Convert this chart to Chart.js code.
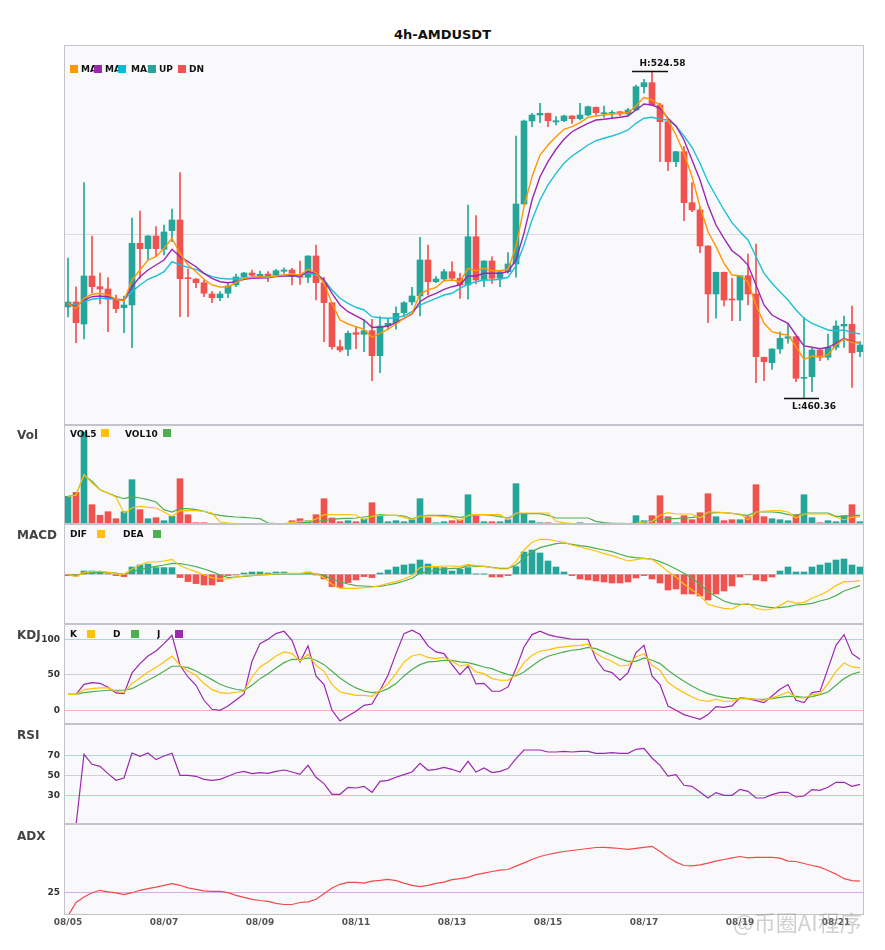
<!DOCTYPE html>
<html><head><meta charset="utf-8">
<script src="https://cdn.jsdelivr.net/npm/chart.js@4.4.0/dist/chart.umd.min.js"></script>
<style>
body{margin:0;background:#fff;}
#wrap{position:relative;width:885px;height:950px;overflow:hidden;font-family:"DejaVu Sans",sans-serif;background:#fff;}
.pane{position:absolute;left:0;width:885px;}
.title{position:absolute;left:0;top:27px;width:885px;text-align:center;font-weight:bold;font-size:13px;line-height:15px;color:#111;}
.lbl{position:absolute;left:17px;font-weight:bold;font-size:12px;line-height:12px;color:#444;}
.leg{position:absolute;font-weight:bold;font-size:9px;line-height:9px;color:#111;white-space:nowrap;overflow:hidden;}
.box{position:absolute;width:8px;height:8px;}
.wm{position:absolute;left:733px;top:908px;font-family:"Noto Sans CJK SC",sans-serif;font-size:22px;line-height:26px;color:rgba(150,150,150,0.45);white-space:nowrap;}
</style></head><body>
<div id="wrap">
  <div class="pane" style="top:43px;height:384px"><canvas id="cMain"></canvas></div>
  <div class="pane" style="top:423px;height:103px"><canvas id="cVol"></canvas></div>
  <div class="pane" style="top:522px;height:104px"><canvas id="cMacd"></canvas></div>
  <div class="pane" style="top:622px;height:104px"><canvas id="cKdj"></canvas></div>
  <div class="pane" style="top:722px;height:104px"><canvas id="cRsi"></canvas></div>
  <div class="pane" style="top:822px;height:123px"><canvas id="cAdx"></canvas></div>

  <div class="title">4h-AMDUSDT</div>

  <div class="box" style="left:70px;top:65px;background:#FF9800"></div>
  <div class="leg" style="left:81px;top:65px;width:13px">MA5</div>
  <div class="box" style="left:94px;top:65px;background:#9C27B0"></div>
  <div class="leg" style="left:105px;top:65px;width:13px">MA10</div>
  <div class="box" style="left:118px;top:65px;background:#00BCD4"></div>
  <div class="leg" style="left:131px;top:65px;width:17px">MA20</div>
  <div class="box" style="left:148px;top:65px;background:#26A69A"></div>
  <div class="leg" style="left:159px;top:65px">UP</div>
  <div class="box" style="left:178px;top:65px;background:#EF5350"></div>
  <div class="leg" style="left:189px;top:65px">DN</div>

  <div class="lbl" style="top:429px">Vol</div>
  <div class="leg" style="left:70px;top:430px">VOL5</div>
  <div class="box" style="left:101px;top:429px;background:#FFC107"></div>
  <div class="leg" style="left:125px;top:430px">VOL10</div>
  <div class="box" style="left:163px;top:429px;background:#4CAF50"></div>

  <div class="lbl" style="top:529px">MACD</div>
  <div class="leg" style="left:70px;top:530px">DIF</div>
  <div class="box" style="left:97px;top:530px;background:#FFC107"></div>
  <div class="leg" style="left:123px;top:530px">DEA</div>
  <div class="box" style="left:153px;top:530px;background:#4CAF50"></div>

  <div class="lbl" style="top:629px">KDJ</div>
  <div class="leg" style="left:70px;top:630px">K</div>
  <div class="box" style="left:87px;top:630px;background:#FFC107"></div>
  <div class="leg" style="left:113px;top:630px">D</div>
  <div class="box" style="left:131px;top:630px;background:#4CAF50"></div>
  <div class="leg" style="left:157px;top:630px">J</div>
  <div class="box" style="left:175px;top:630px;background:#9C27B0"></div>

  <div class="lbl" style="top:729px">RSI</div>
  <div class="lbl" style="top:830px">ADX</div>

  <div class="wm">@币圈AI程序</div>
</div>
<script>
// ---------- categories ----------
const days = ['08/05','08/06','08/07','08/08','08/09','08/10','08/11','08/12','08/13','08/14','08/15','08/16','08/17','08/18','08/19','08/20','08/21'];
const hours = ['00:00','04:00','08:00','12:00','16:00','20:00'];
const categories = [];
days.forEach(d => hours.forEach(h => categories.push(d + ' ' + h)));
categories.length = 100;

// ---------- candles ----------
const open = [478.23,479.21,474.89,484.31,482.21,481.76,479.74,478.09,478.62,490.74,
489.68,492.17,489.56,493.21,495.31,483.98,483.72,483.00,480.78,480.05,
480.92,482.55,484.18,484.90,484.37,484.71,484.51,485.24,485.49,484.31,
484.06,488.24,483.00,479.07,470.43,469.92,473.18,472.86,473.57,468.66,
474.49,475.14,477.11,479.21,480.39,487.46,483.19,483.72,485.16,483.86,
482.55,492.03,483.53,487.26,483.86,485.16,486.67,498.45,514.76,515.93,
516.27,514.56,514.81,515.74,515.21,515.93,517.45,516.19,516.27,516.58,
516.13,516.92,521.49,522.28,517.90,514.62,506.76,508.73,498.71,497.28,
490.21,480.78,485.04,479.80,479.60,484.37,480.78,468.35,467.29,469.98,
472.08,472.39,464.22,464.54,469.78,468.35,470.31,474.49,474.83,469.45];
const high = [487.85,482.21,502.64,492.17,484.90,483.98,480.58,480.39,495.70,497.08,
492.30,494.00,494.33,497.47,504.60,485.69,483.80,483.53,481.23,481.23,
482.88,484.71,485.04,485.49,485.30,485.16,485.63,485.94,485.83,487.26,
488.30,490.40,484.06,479.10,471.74,473.51,474.24,475.67,475.81,476.32,
475.81,478.28,479.27,482.09,491.91,490.40,484.18,485.63,487.12,484.84,
498.26,496.16,487.30,488.10,485.20,488.89,511.81,514.95,516.27,518.23,
516.30,515.60,515.93,515.80,518.23,517.70,517.50,517.70,516.78,516.60,
517.25,521.83,522.95,524.58,518.20,515.00,508.80,509.71,502.64,497.92,
490.25,485.10,485.10,483.86,484.40,488.63,490.60,468.40,470.00,473.37,
475.02,472.40,476.20,470.11,469.80,472.92,475.53,476.46,478.42,471.41];
const low = [476.26,471.21,471.94,480.97,478.81,473.37,477.11,473.18,470.23,483.86,
487.46,488.24,488.44,491.05,476.32,476.32,482.02,480.25,479.07,479.46,
480.05,482.21,483.98,484.06,484.06,483.19,484.31,484.84,482.55,482.68,
483.00,479.60,471.41,469.92,469.39,468.66,470.04,469.45,463.75,465.32,
473.85,473.85,476.46,478.62,476.46,480.58,483.00,483.39,483.39,479.93,
479.74,482.74,482.21,482.88,482.21,484.84,484.06,498.40,513.64,514.42,
513.64,513.97,514.62,514.30,514.95,515.74,515.93,515.48,515.29,515.74,
515.93,516.78,520.20,517.90,506.76,504.99,505.78,495.17,496.94,488.89,
475.14,476.01,478.42,475.53,475.53,478.62,463.36,463.75,465.99,469.13,
471.10,463.55,460.36,461.59,467.68,467.82,469.78,470.31,462.45,468.46];
const close = [479.21,475.14,484.31,482.21,481.76,479.74,477.89,478.62,490.74,489.68,
492.17,489.68,492.96,495.31,483.78,483.78,483.00,480.92,480.05,480.78,
482.35,484.12,484.90,484.45,484.65,484.31,485.35,485.49,484.84,484.06,
488.24,483.00,479.07,470.43,469.78,473.06,472.86,473.57,468.66,474.49,
475.02,476.99,479.07,480.39,487.46,483.19,483.72,485.16,483.86,482.55,
492.03,483.53,487.26,483.86,485.16,486.67,498.45,514.76,515.93,516.27,
514.81,514.81,515.74,515.21,515.93,517.56,516.39,516.39,516.46,516.13,
516.92,521.49,522.28,517.90,514.62,506.76,508.73,498.71,497.28,490.21,
480.78,485.04,479.60,479.60,484.37,480.78,468.46,467.48,469.98,472.08,
472.39,464.22,464.34,469.78,468.35,470.31,474.49,474.83,469.25,470.76];

// ---------- moving averages ----------
const ma5 = [478.95,477.97,479.93,480.72,480.92,480.58,479.74,479.46,483.53,485.49,
487.46,488.10,489.75,491.72,488.77,486.47,485.16,483.67,482.55,482.15,
482.21,483.00,483.86,484.06,484.18,484.06,484.31,484.51,484.71,484.51,
485.63,484.96,482.88,478.95,475.67,474.89,474.36,473.85,472.27,473.06,
473.85,474.89,476.01,476.99,480.78,481.56,482.09,483.39,483.53,483.19,
485.83,485.35,485.83,485.35,485.35,485.63,490.07,497.92,503.82,508.08,
510.04,511.67,513.13,513.64,514.42,515.48,515.74,515.93,516.13,516.27,
516.39,517.70,519.41,518.88,517.90,514.97,512.01,508.41,503.82,497.92,
493.01,490.07,486.81,484.51,484.37,483.19,478.62,475.02,473.37,472.92,
472.73,470.43,467.95,468.60,468.46,468.80,470.76,471.94,471.29,471.10];
const ma10 = [478.81,478.28,479.60,480.25,480.39,480.25,479.74,479.60,482.21,484.18,
485.49,486.47,487.46,489.56,488.10,487.12,486.14,484.84,483.86,483.19,
483.00,483.19,483.67,483.86,483.92,483.98,484.18,484.31,484.37,484.31,
485.16,484.84,483.53,480.92,478.62,477.30,476.46,475.67,474.24,474.24,
474.49,475.14,476.01,476.85,479.27,480.25,480.92,481.70,482.21,482.55,
484.31,484.31,484.84,484.84,484.84,485.16,487.46,492.70,499.24,503.82,
506.76,509.20,511.16,512.65,513.52,514.30,514.95,515.09,515.29,515.48,
515.74,516.92,518.09,517.90,517.25,515.29,513.77,511.02,507.10,503.17,
498.26,494.33,491.72,489.28,488.10,486.47,482.55,478.62,476.65,475.81,
475.02,472.73,470.57,470.31,470.04,470.31,471.10,472.08,471.41,471.21];
const ma20 = [478.81,478.56,479.27,479.74,479.93,479.93,479.74,479.60,481.23,482.55,
483.67,484.31,485.16,487.12,486.47,486.02,485.63,484.84,484.18,483.86,
483.72,483.78,483.92,484.06,484.18,484.18,484.31,484.45,484.37,484.31,
484.96,484.51,483.53,481.56,479.93,478.95,478.17,477.64,476.32,476.12,
476.01,476.12,476.46,477.30,478.62,479.27,479.93,480.58,480.92,481.90,
482.74,483.19,483.53,483.53,483.67,484.06,486.28,490.40,495.31,499.24,
502.19,504.48,506.45,507.88,508.92,510.04,510.89,511.36,511.81,512.34,
512.99,514.30,515.29,515.48,515.09,514.95,513.77,511.81,509.59,506.45,
502.83,500.03,497.28,494.78,493.01,491.38,488.10,484.84,482.88,481.23,
479.60,477.64,476.01,475.02,474.36,473.71,473.57,473.71,473.18,472.92];

// ---------- volume ----------
const vol = [27.7,31.7,92,19.3,8.7,12.3,5.3,12.3,44.3,14.3,
5.3,6.3,3.3,7.7,45.3,9.3,1.3,1.3,0.7,0.4,
0.4,0.4,0.3,0.3,0.2,0.2,0.2,0.2,3.3,5.3,
3.3,9.3,25.3,6,2.3,3.3,2.3,5,21.3,7.7,
2.3,3.3,2.3,4.3,25.3,6.3,1.3,2.3,3.3,4,
29.3,8.3,2.3,2.3,2.3,4.3,40.3,10.3,3.3,1.3,
1.3,0.4,0.4,0.3,1.3,0.3,0.3,0.3,0.3,0.3,
0.4,8.3,3.3,8.3,28.3,7.3,1.3,8.3,4.3,11.3,
30.3,7.3,3.3,4.3,4.3,7.3,39.3,7.3,5.3,4.3,
3.3,9.3,29.3,6.3,1.3,3.3,2.3,8.3,19.3,2.3];
const vol5 = [27.7,28.7,49.3,41,34.3,31,26.7,11,16,17.7,
16.7,16,12,7.7,13.3,13.3,13.3,12.7,11,2,
1,0.3,0.3,0.3,0.3,0.3,0.3,0.3,1.7,2.7,
2.7,5,9.3,9.3,9.3,9.3,9,4.3,7.7,8.7,
8.7,8.7,6.7,4.7,8,8,8,7.3,6.7,3.3,
8.7,9.3,9.3,9.3,9.3,4.3,11,11,11,11,
11,2.7,1.3,0.3,0.3,0.3,0.3,0.3,0.3,0.3,
0.3,0.7,2,2.7,8.7,11.3,10,10,10,6,
12,12,11.3,10.7,10,4.3,12,12.7,13.3,13.3,
12,6,10,10,10,10,6.7,4.3,6.7,7.3];
const vol10 = [27.7,29.3,48.7,42.7,34.3,31,27.7,25.3,27.3,26,
24.3,22,14.3,12,15.3,15.3,14.3,12.7,10,8.7,
7.7,7,6.7,6,5.3,1,0.3,0.3,0.3,1,
2,2.3,3.3,4.7,5.3,5.7,6,7,8,9.3,
8.7,8.7,8,5.3,7.7,8.7,8.7,8.7,7.7,6.7,
7.7,9.3,9.3,8.7,7.3,6,10,10.3,10.3,10.3,
8.7,6,6,6,6,6,2.7,1.3,0.7,0.7,
0.3,1,2,3.3,4.3,5.3,5.3,6,6.7,7.7,
10.7,11.3,11.3,10.7,9.3,8.7,12,12,12,11.3,
9.3,8.7,11,11,11,11,7.7,7.7,8.7,8.7];

// ---------- MACD ----------
const macdHist = [-1.3,-1.7,3.3,3.3,2.7,0.7,-1.3,-2.3,7.3,9.3,
10.3,6.7,6.7,6.7,-3.3,-7.3,-9.3,-10.7,-10.7,-7.3,
-1.3,-0.7,1.3,2.3,2.3,1.3,2.3,2.3,0.3,0.3,
2.3,-0.7,-4.7,-12.3,-13.3,-8.3,-5.7,-2.3,-3.3,1.3,
4.3,7.3,9.3,10.3,14.3,10.3,6.7,6.7,3.3,5,
6.7,0.3,0.3,-2.7,-2.7,-1.3,7.7,22.3,24.3,21.3,
13.3,7.3,2.3,-1.3,-4.7,-5.7,-6.7,-7.7,-8.7,-8.7,
-7.7,-3.7,-1.3,-4.7,-8.7,-15.7,-14.7,-19.7,-19.7,-21.7,
-25.7,-19.7,-16.7,-11.7,-2.7,-0.3,-5.7,-6.7,-2.7,3.3,
7.3,2.3,2.3,7.3,9.3,11.3,14.3,15.3,9.3,7.3];
const dif = [0,-2.3,2,2.7,3.3,2,0.7,0,5.3,9.3,
12.3,12.3,13.3,15,8.7,5.3,2.7,-0.7,-3.3,-4.7,
-4.7,-2.7,-1.7,-1,-0.7,0,0.7,1,1,1,
2,0.7,-3.3,-10,-14,-14,-14,-13.3,-12.7,-11.3,
-9,-7.3,-4.7,-1.3,6.7,7.7,7.7,8.3,8.3,7.7,
10,8.7,8,6.7,5.3,5.3,12.7,24.3,32,35,
35,33.3,32,29.3,27.3,25.3,23.3,20.7,18.7,16,
13.3,14.7,16,14.7,9.3,2.7,-2.7,-10,-15.7,-21.3,
-30,-32.3,-34,-34.7,-30.7,-29,-34,-35.7,-34.7,-31.3,
-26.7,-29,-28,-24,-20.7,-16.7,-11.3,-7.3,-7.3,-6.3];
const dea = [0,-0.7,1,1.7,2,2,1.3,0,2.7,4.7,
6.7,8,9.3,11,10.7,9.3,7.7,5.3,2.7,-0.7,
-3.3,-2.7,-2,-1.3,-0.7,-0.3,0.3,0.3,0.7,0.7,
1,0.7,-1.3,-4.7,-7.3,-9.7,-11.3,-11.7,-12.3,-12,
-10.7,-9,-6.7,-4,1,2.7,4.3,5.3,6,6,
8.7,8,8,7,6,6,9.3,16,22.7,26.7,
28.7,30.7,31.3,30,28.7,27.7,26,24.3,22.7,20,
17.7,16.7,16,15.3,12.7,9.3,5.3,1,-4,-10,
-17.3,-22.3,-26.7,-29.3,-30,-30,-30.7,-32.3,-33.3,-33.3,
-32.3,-30.7,-30,-29,-26.7,-24.7,-21.3,-16.7,-14,-11.3];

// ---------- KDJ ----------
const kLine = [22.5,22.5,29.1,30.5,31.5,31.5,26.8,24.9,37.6,45.5,
54,60.1,68.1,76.5,63.4,55.4,49.3,37.6,29.1,24.9,
23.9,25.4,26.8,46.9,61,68.1,76.5,82.2,79.8,69,
78.9,63.4,54.9,36.2,25.8,23.5,21.1,21.1,19.7,28.2,
37.6,51.6,68.1,76.5,78.9,74.6,72.8,74.6,69,62.4,
64.3,54,51.6,44.6,42.3,42.3,50.2,67.1,77.5,83.1,
85,87.8,89.2,90.6,91.5,93,79.8,73.7,69,62.4,
63.4,75.1,79.8,63.4,56.3,39,31.5,24.9,18.8,14.1,
12.7,15.5,12.7,12.7,17.4,16.4,15.5,14.1,17.4,21.1,
25.8,18.3,17.4,22.1,23.5,37.6,54.9,66.7,61,59.6];
const dLine = [22.5,22.5,24.9,26.3,27.2,28.2,28.2,28.2,30.5,36.2,
42.3,48.4,54.9,62,62,60.1,55.4,49.3,43.2,36.6,
32.4,29.6,28.2,35.2,44.6,51.6,59.6,67.1,71.8,71.4,
73.7,70.4,64.3,54.9,45.5,37.6,31.5,27.2,24.9,25.8,
30.5,37.6,48.4,57.3,64.3,68.1,69,70.4,70.4,68.1,
67.1,64.3,61,58.7,54,50.2,48.4,54,62.4,70.4,
76.1,79.3,82.2,84.5,85.9,88.7,86.9,82.2,77.5,72.8,
69,69,73.7,70.4,65.7,56.3,48.4,40.8,34.3,28.2,
23.5,20.2,18.3,16.4,16.4,16.4,15.5,15.5,16.4,18.3,
19.7,19.7,18.3,19.2,22.1,25.8,35.2,44.6,50.7,54];
const jLine = [22.5,22.5,36.6,39,38,32.4,24.4,23.5,52.6,65.7,
76.5,83.6,93.9,105.6,63.4,46.9,35.2,14.1,1.4,0,
6.1,14.6,23,69,93.9,100,108,111.3,98.6,68.1,
90.6,48.4,36.2,0,-15,-8,-1.4,7,8.9,28.2,
49.3,79.8,108,112.7,106.6,90.6,82.2,79.8,64.3,50.2,
62.4,37.1,38,26.8,26.8,32.9,58.7,89.2,106.6,111.3,
106.6,103.8,101.9,100,100,100,71.8,56.3,53.1,42.3,
53.1,81.2,91.5,48.4,36.2,6.1,0,-6.1,-9.4,-12.7,
-6.1,5.2,4.2,6.1,17.8,16.4,13.6,10.8,20.2,29.6,
36.2,14.1,10.8,24.9,26.8,58.7,91.5,106.6,79.8,71.8];

// ---------- RSI ----------
const rsi = [null,0,71,61,59,51.7,45,47.3,72.3,69,
72.3,65.7,69.3,72,50,50,49,46,45,46,
49,52.3,54,51.7,52.7,52,54,55.3,53.3,51,
60,48,41.7,31,31,38,37.3,39,33,44,
45,48,50.7,53.3,62,55,56,58,56,53.3,
64,53.3,57.3,52.7,54,56.7,66.7,75.3,75.3,75.3,
73.3,73.3,74,73.3,74,74,72,72,72.7,72,
72,76,77,67.3,60,49.3,50.7,40,39,33.3,
27.3,32.7,30,30,36,34,27.3,27.3,30.7,33,
33,28.3,29.3,35.7,35,38,43,43,39,41];

// ---------- ADX ----------
const adx = [13.2,19.9,22.7,24.8,26,25.2,24.7,23.8,24.8,26,
26.8,27.6,28.5,29.3,28.5,27.2,26.5,25.7,25.5,25.5,
24.8,23.5,22.5,21.5,20.9,20.5,19.5,18.9,18.9,19.9,
20.2,21.5,24.3,27.2,29,30,30,29.6,30.6,31,
31.5,30.8,29.6,28.5,27.8,28.5,29.5,30.1,31.3,31.8,
32.5,33.8,34.6,35.4,36.1,36.4,38.1,39.7,41.4,42.9,
43.9,44.7,45.4,45.9,46.4,46.9,47.4,47.5,47.2,46.9,
46.5,47,47.5,48,45.4,42.5,40.1,38.4,38.2,38.7,
39.6,40.6,41.4,42.2,42.9,42.2,42.5,42.5,42.5,42.1,
40.6,40.4,39.4,38.4,37.6,35.9,34.1,31.8,30.8,30.6];

// ---------- axis tick values ----------
const mainGrid = [492.37];
const macdGrid = [0];
const kdjTicks = [0, 50, 100];
const rsiTicks = [30, 50, 70];
const adxTicks = [25];

// ---------- styling ----------
const UP = '#26A69A', DN = '#EF5350';
Chart.defaults.font.family = 'DejaVu Sans';
const candleColors = close.map((c, i) => c >= open[i] ? UP : DN);
const histColors = macdHist.map(v => v >= 0 ? UP : DN);

const panelPlugin = {
  id: 'panelPlugin',
  beforeDraw(chart) {
    const { ctx, chartArea: a } = chart;
    ctx.save();
    ctx.fillStyle = '#F9F9FC';
    ctx.fillRect(a.left, a.top, a.right - a.left, a.bottom - a.top);
    ctx.restore();
  },
  afterDraw(chart) {
    const { ctx, chartArea: a } = chart;
    ctx.save();
    ctx.strokeStyle = '#C3C3CB';
    ctx.lineWidth = 1;
    ctx.strokeRect(a.left + 0.5, a.top + 0.5, a.right - a.left - 1, a.bottom - a.top - 1);
    ctx.restore();
  }
};

const hlPlugin = {
  id: 'hlPlugin',
  afterDatasetsDraw(chart) {
    const xs = chart.scales.x, ys = chart.scales.y, ctx = chart.ctx;
    const hv = Math.max(...high), hi = high.indexOf(hv);
    const lv = Math.min(...low), li = low.indexOf(lv);
    ctx.save();
    ctx.strokeStyle = '#111'; ctx.lineWidth = 1.4; ctx.fillStyle = '#111';
    ctx.font = 'bold 9px "DejaVu Sans"'; ctx.textAlign = 'center'; ctx.textBaseline = 'middle';
    let x = xs.getPixelForValue(hi), y = Math.round(ys.getPixelForValue(hv));
    ctx.beginPath(); ctx.moveTo(x - 20, y + 0.5); ctx.lineTo(x + 16, y + 0.5); ctx.stroke();
    ctx.fillText('H:' + hv.toFixed(2), x + 10.5, y - 7);
    x = xs.getPixelForValue(li); y = Math.round(ys.getPixelForValue(lv));
    ctx.beginPath(); ctx.moveTo(x - 20, y + 0.5); ctx.lineTo(x + 15, y + 0.5); ctx.stroke();
    ctx.fillText('L:' + lv.toFixed(2), x + 10, y + 9);
    ctx.restore();
  }
};

function yAxis(min, max, ticks, colorFn, showLabels) {
  return {
    min, max,
    afterFit(s) { s.width = 64; s.paddingTop = 0; s.paddingBottom = 0; },
    afterBuildTicks(s) { s.ticks = ticks.map(v => ({ value: v })); },
    grid: { drawTicks: false, lineWidth: 1, color: c => colorFn(c.tick ? c.tick.value : 0) },
    border: { display: false },
    ticks: { display: showLabels, padding: 4, color: '#333', font: { size: 9, weight: 'bold' }, callback: v => String(v) }
  };
}
function xAxis(show) {
  return {
    type: 'category', offset: true, display: show,
    grid: { display: false, drawTicks: false }, border: { display: false },
    ticks: { autoSkip: false, maxRotation: 0, minRotation: 0, padding: 2, color: '#555',
      font: { size: 9, weight: 'bold' },
      callback: (v, i) => i % 12 === 0 ? categories[i].slice(0, 5) : '' },
    afterFit(s) { s.height = show ? 30 : 0; s.paddingLeft = 0; s.paddingRight = 0; }
  };
}
function opts(x, y, padBottom) {
  return {
    responsive: true, maintainAspectRatio: false, animation: false, events: [],
    layout: { padding: { left: 0, right: 21, top: 2, bottom: padBottom } },
    plugins: { legend: { display: false }, tooltip: { enabled: false } },
    scales: { x, y }
  };
}
function line(data, color, w) {
  return { type: 'line', data, borderColor: color, borderWidth: w || 1.2, pointRadius: 0, tension: 0, fill: false, order: 0 };
}

// main
new Chart(document.getElementById('cMain'), {
  type: 'bar',
  data: { labels: categories, datasets: [
    line(ma5, '#FF9800', 1.4), line(ma10, '#9C27B0', 1.4), line(ma20, '#1EC0D8', 1.4),
    { type: 'bar', data: open.map((o, i) => [Math.min(o, close[i]), Math.max(o, close[i])]),
      backgroundColor: candleColors, barThickness: 6, grouped: false, minBarLength: 1, order: 1 },
    { type: 'bar', data: low.map((l, i) => [l, high[i]]),
      backgroundColor: candleColors, barThickness: 1, grouped: false, order: 2 }
  ]},
  options: opts(xAxis(false), yAxis(455.05, 529.68, mainGrid, () => '#DCDCE2', false), 2),
  plugins: [panelPlugin, hlPlugin]
});

// volume
new Chart(document.getElementById('cVol'), {
  type: 'bar',
  data: { labels: categories, datasets: [
    line(vol5, '#FFC107'), line(vol10, '#4CAF50'),
    { type: 'bar', data: vol, backgroundColor: candleColors, barThickness: 6, grouped: false, order: 1 }
  ]},
  options: opts(xAxis(false), yAxis(0, 99, [], () => '#DDD', false), 2),
  plugins: [panelPlugin]
});

// MACD
new Chart(document.getElementById('cMacd'), {
  type: 'bar',
  data: { labels: categories, datasets: [
    line(dif, '#FFC107'), line(dea, '#4CAF50'),
    { type: 'bar', data: macdHist, backgroundColor: histColors, barThickness: 6, grouped: false, order: 1 }
  ]},
  options: opts(xAxis(false), yAxis(-49.7, 50.3, macdGrid, () => '#CFCFD4', false), 2),
  plugins: [panelPlugin]
});

// KDJ
new Chart(document.getElementById('cKdj'), {
  type: 'line',
  data: { labels: categories, datasets: [ line(kLine, '#FFC107'), line(dLine, '#4CAF50'), line(jLine, '#9C27B0') ] },
  options: opts(xAxis(false), yAxis(-19.3, 121.5, kdjTicks,
    v => v === 100 ? '#A6D9D6' : (v === 0 ? '#F6B4B4' : '#CFCFD4'), true), 2),
  plugins: [panelPlugin]
});

// RSI
new Chart(document.getElementById('cRsi'), {
  type: 'line',
  data: { labels: categories, datasets: [ line(rsi, '#9C27B0') ] },
  options: opts(xAxis(false), yAxis(1.3, 101.3, rsiTicks,
    v => v === 70 ? '#A6D9D6' : (v === 30 ? '#F6B4B4' : '#CFCFD4'), true), 2),
  plugins: [panelPlugin]
});

// ADX
new Chart(document.getElementById('cAdx'), {
  type: 'line',
  data: { labels: categories, datasets: [ line(adx, '#F24A4A') ] },
  options: opts(xAxis(true), yAxis(13.65, 59.15, adxTicks, () => '#DDA8EE', true), 0),
  plugins: [panelPlugin]
});
</script>
</body></html>
